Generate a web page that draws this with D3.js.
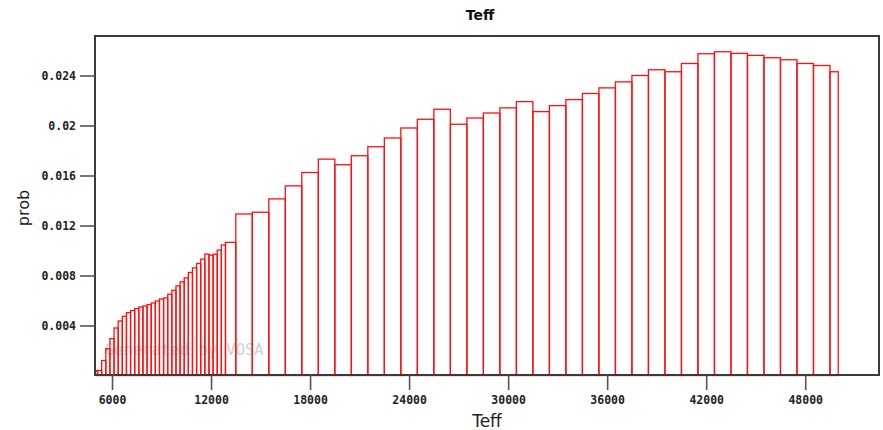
<!DOCTYPE html>
<html>
<head>
<meta charset="utf-8">
<script src="https://cdn.jsdelivr.net/npm/d3@7"></script>
<style>
  html, body { margin: 0; padding: 0; background: #fff; }
  svg { display: block; }
</style>
</head>
<body>
<svg id="chart" width="883" height="430"></svg>
<script>
// Bin centres (Teff) and probabilities
const binCenters = [
  5000, 5250, 5500, 5750, 6000, 6250, 6500, 6750, 7000, 7250, 7500, 7750,
  8000, 8250, 8500, 8750, 9000, 9250, 9500, 9750, 10000, 10250, 10500, 10750,
  11000, 11250, 11500, 11750, 12000, 12250, 12500, 12750, 13000,
  14000, 15000, 16000, 17000, 18000, 19000, 20000, 21000, 22000, 23000, 24000,
  25000, 26000, 27000, 28000, 29000, 30000, 31000, 32000, 33000, 34000, 35000,
  36000, 37000, 38000, 39000, 40000, 41000, 42000, 43000, 44000, 45000, 46000,
  47000, 48000, 49000, 50000
];
const probValues = [
  0.0004, 0.0004, 0.0012, 0.00214, 0.00295, 0.0038, 0.00436, 0.00474, 0.00503, 0.0052, 0.00535, 0.00548,
  0.00556, 0.00567, 0.0058, 0.00596, 0.00612, 0.0062, 0.0065, 0.00682, 0.00717, 0.00749, 0.00781, 0.00824,
  0.00861, 0.00896, 0.00931, 0.00971, 0.00963, 0.0097, 0.01003, 0.01044, 0.01065,
  0.01292, 0.01306, 0.01413, 0.01517, 0.01624, 0.01731, 0.01686, 0.01758, 0.0183, 0.0190, 0.0198,
  0.0205, 0.0213, 0.0201, 0.0206, 0.0210, 0.02141, 0.02191, 0.02111, 0.02159, 0.02207, 0.02256,
  0.02301, 0.02349, 0.0240, 0.02446, 0.0243, 0.02496, 0.02574, 0.0259, 0.02577, 0.02561, 0.02542,
  0.02526, 0.02496, 0.0248, 0.0243
];
const xTicks = [6000, 12000, 18000, 24000, 30000, 36000, 42000, 48000];
const yTicks = [0.004, 0.008, 0.012, 0.016, 0.02, 0.024];
const yTickLabels = ["0.004", "0.008", "0.012", "0.016", "0.02", "0.024"];
const titleText = "Teff";
const xLabel = "Teff";
const yLabel = "prob";
const watermark = "Generated by VOSA";

const svg = d3.select("#chart");
const frameL = 95, frameR = 879, frameT = 36, frameB = 375;

const x = d3.scaleLinear().domain([5000, 52500]).range([95.5, 879.5]);
const y = d3.scaleLinear().domain([0, 0.02716]).range([375.5, 36]);

const bins = binCenters.map((c, i) => {
  const l = i === 0 ? c : (binCenters[i - 1] + c) / 2;
  const r = i === binCenters.length - 1 ? c : (c + binCenters[i + 1]) / 2;
  return { l, r, v: probValues[i] };
});

// watermark
svg.append("text")
  .attr("x", 105).attr("y", 355)
  .attr("font-family", "DejaVu Sans Mono")
  .attr("font-size", 15.5)
  .attr("fill", "#cfcfcf")
  .text(watermark);

// bars
svg.append("g").selectAll("rect").data(bins).join("rect")
  .attr("x", d => x(d.l))
  .attr("y", d => y(d.v))
  .attr("width", d => x(d.r) - x(d.l))
  .attr("height", d => y(0) - y(d.v))
  .attr("fill", "none")
  .attr("stroke", "#ff1010")
  .attr("stroke-width", 1.3);

// frame
svg.append("rect")
  .attr("x", frameL).attr("y", frameT)
  .attr("width", frameR - frameL).attr("height", frameB - frameT)
  .attr("fill", "none")
  .attr("stroke", "#3a3a3a")
  .attr("stroke-width", 2);

// x axis ticks
const xAxis = d3.axisBottom(x).tickValues(xTicks).tickSize(15).tickPadding(6).tickFormat(d3.format("d"));
const gx = svg.append("g").attr("transform", `translate(0,${frameB})`).call(xAxis);
gx.select(".domain").remove();
gx.selectAll(".tick line").attr("stroke", "#555").attr("stroke-width", 1.6);
gx.selectAll(".tick text")
  .attr("font-family", "DejaVu Sans Mono")
  .attr("font-weight", "bold")
  .attr("font-size", 11.5)
  .attr("fill", "#222");

// y axis ticks
const yAxis = d3.axisLeft(y).tickValues(yTicks).tickSize(15).tickPadding(4)
  .tickFormat((d, i) => yTickLabels[i]);
const gy = svg.append("g").attr("transform", `translate(${frameL},0)`).call(yAxis);
gy.select(".domain").remove();
gy.selectAll(".tick line").attr("stroke", "#555").attr("stroke-width", 1.6);
gy.selectAll(".tick text")
  .attr("font-family", "DejaVu Sans Mono")
  .attr("font-weight", "bold")
  .attr("font-size", 11.5)
  .attr("fill", "#222");

// title
svg.append("text")
  .attr("x", 480).attr("y", 20)
  .attr("text-anchor", "middle")
  .attr("font-family", "DejaVu Sans")
  .attr("font-weight", "bold")
  .attr("font-size", 14)
  .attr("fill", "#111")
  .text(titleText);

// x label
svg.append("text")
  .attr("x", 487).attr("y", 427)
  .attr("text-anchor", "middle")
  .attr("font-family", "DejaVu Sans")
  .attr("font-size", 17)
  .attr("fill", "#222")
  .text(xLabel);

// y label
svg.append("text")
  .attr("transform", "translate(29,208) rotate(-90)")
  .attr("text-anchor", "middle")
  .attr("font-family", "DejaVu Sans")
  .attr("font-size", 16)
  .attr("fill", "#222")
  .text(yLabel);
</script>
</body>
</html>
